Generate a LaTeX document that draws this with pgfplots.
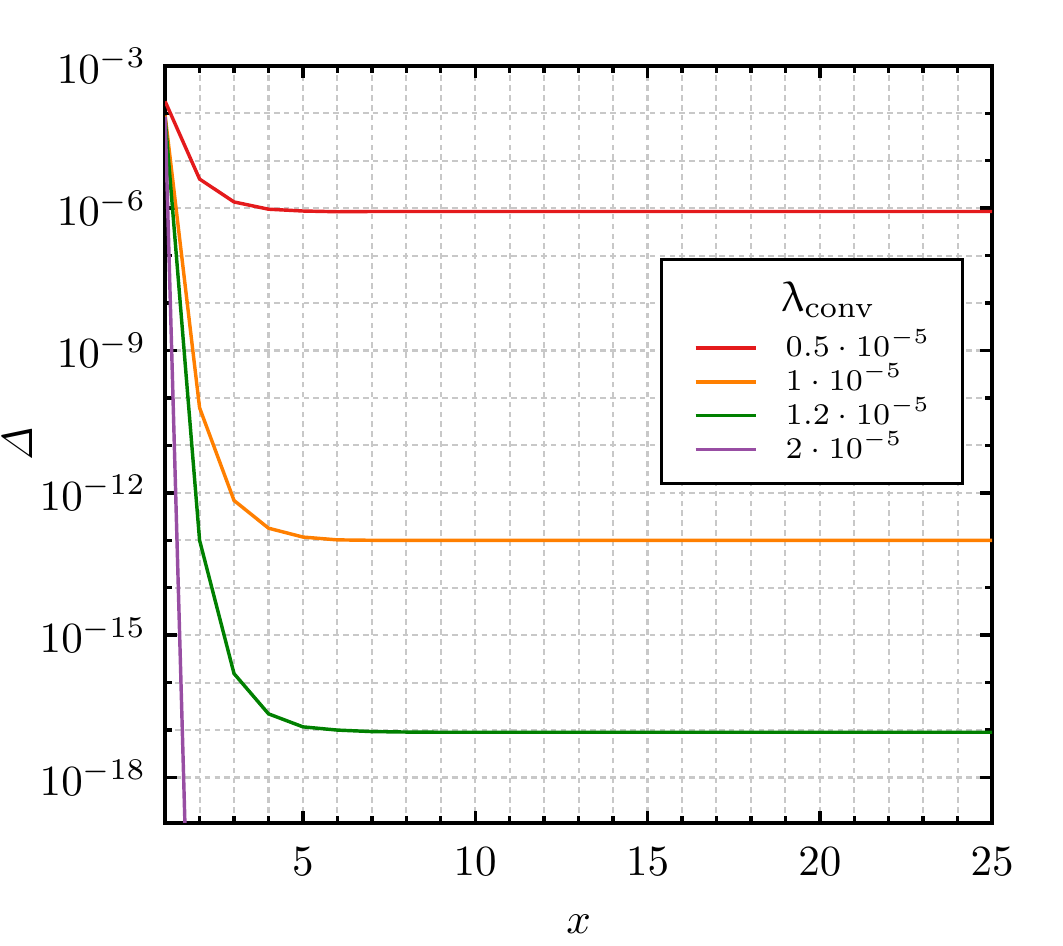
\documentclass[border=0pt]{standalone}
\usepackage{pgfplots}
\pgfplotsset{compat=1.18}
\usepackage{upgreek}

\definecolor{cred}{RGB}{228,26,28}
\definecolor{corange}{RGB}{255,127,0}
\definecolor{cgreen}{RGB}{0,128,0}
\definecolor{cpurple}{RGB}{152,78,163}
\definecolor{gridgray}{RGB}{200,200,200}

\begin{document}
\begin{tikzpicture}
\begin{axis}[
  scale only axis,
  width=192.3pt, height=176pt,
  xmin=1, xmax=25,
  ymode=log, log basis y=10,
  ymin=1.12e-19, ymax=1e-3,
  xtick={5,10,15,20,25},
  minor xtick={1,2,...,25},
  ytick={1e-18,1e-15,1e-12,1e-9,1e-6,1e-3},
  minor ytick={1e-19,1e-18,1e-17,1e-16,1e-15,1e-14,1e-13,1e-12,1e-11,1e-10,1e-9,1e-8,1e-7,1e-6,1e-5,1e-4,1e-3},
  tick align=inside,
  major tick length=2.8pt, minor tick length=1.6pt,
  every tick/.style={black, line width=0.8pt},
  axis line style={line width=0.9pt},
  grid=both,
  major grid style={gridgray, line width=0.5pt, dash pattern=on 1.3pt off 1pt},
  minor grid style={gridgray, line width=0.5pt, dash pattern=on 1.3pt off 1pt},
  xticklabel style={yshift=-2.3pt},
  yticklabel style={xshift=-0.9pt},
  xlabel={$x$},
  ylabel={$\mathit{\Delta}$},
  xlabel style={at={(axis description cs:0.5,-0.1347)}, anchor=center, inner sep=0pt},
  ylabel style={at={(axis description cs:-0.1778,0.5)}, anchor=center, inner sep=0pt},
  legend style={
    at={(rel axis cs:0.5985,0.7464)}, anchor=north west,
    draw=black, line width=0.8pt, fill=white,
    font=\fontsize{7.5}{9}\selectfont,
    inner xsep=7.5pt, inner ysep=3.9pt,
    column sep=6.5pt, row sep=0pt,
    nodes={inner sep=0pt, text height=6pt, text depth=1.9pt},
  },
  legend cell align=left,
  legend image code/.code={\draw[#1, line width=0.8pt] (0pt,0pt) -- (14pt,0pt);},
  every axis plot/.append style={line width=0.8pt},
]
\addlegendimage{empty legend}
\addlegendentry[text height=8.2pt, text depth=4.5pt]{\hspace*{-1pt}\normalsize$\uplambda_{\mathrm{conv}}$}

% lambda_conv = 0.5e-5
\addplot[cred] coordinates {
  (1,1.78e-4) (2,4.1e-6) (3,1.35e-6) (4,9.5e-7) (5,8.7e-7) (6,8.4e-7)
  (7,8.5e-7) (8,8.5e-7) (9,8.5e-7) (10,8.5e-7) (11,8.5e-7) (12,8.5e-7)
  (13,8.5e-7) (14,8.5e-7) (15,8.5e-7) (16,8.5e-7) (17,8.5e-7) (18,8.5e-7)
  (19,8.5e-7) (20,8.5e-7) (21,8.5e-7) (22,8.5e-7) (23,8.5e-7) (24,8.5e-7) (25,8.5e-7)
};
\addlegendentry{$0.5\cdot10^{-5}$}

% lambda_conv = 1e-5
\addplot[corange] coordinates {
  (1,9e-5) (2,6.2e-11) (3,6.9e-13) (4,1.8e-13) (5,1.17e-13) (6,1.02e-13)
  (7,1.0e-13) (8,1.0e-13) (9,1.0e-13) (10,1.0e-13) (11,1.0e-13) (12,1.0e-13)
  (13,1.0e-13) (14,1.0e-13) (15,1.0e-13) (16,1.0e-13) (17,1.0e-13) (18,1.0e-13)
  (19,1.0e-13) (20,1.0e-13) (21,1.0e-13) (22,1.0e-13) (23,1.0e-13) (24,1.0e-13) (25,1.0e-13)
};
\addlegendentry{$1\cdot10^{-5}$}

% lambda_conv = 1.2e-5
\addplot[cgreen] coordinates {
  (1,8e-5) (2,1.0e-13) (3,1.55e-16) (4,2.2e-17) (5,1.17e-17) (6,1.0e-17)
  (7,9.3e-18) (8,9.1e-18) (9,9.0e-18) (10,9.0e-18) (11,9.0e-18) (12,9.0e-18)
  (13,9.0e-18) (14,9.0e-18) (15,9.0e-18) (16,9.0e-18) (17,9.0e-18) (18,9.0e-18)
  (19,9.0e-18) (20,9.0e-18) (21,9.0e-18) (22,9.0e-18) (23,9.0e-18) (24,9.0e-18) (25,9.0e-18)
};
\addlegendentry{$1.2\cdot10^{-5}$}

% lambda_conv = 2e-5
\addplot[cpurple] coordinates {
  (1,8.5e-5) (2,1e-30)
};
\addlegendentry{$2\cdot10^{-5}$}
\end{axis}
\path ([xshift=-38.4pt,yshift=-28.6pt]current axis.south west)
  rectangle ([xshift=16.5pt,yshift=15.3pt]current axis.north east);
\end{tikzpicture}
\end{document}
